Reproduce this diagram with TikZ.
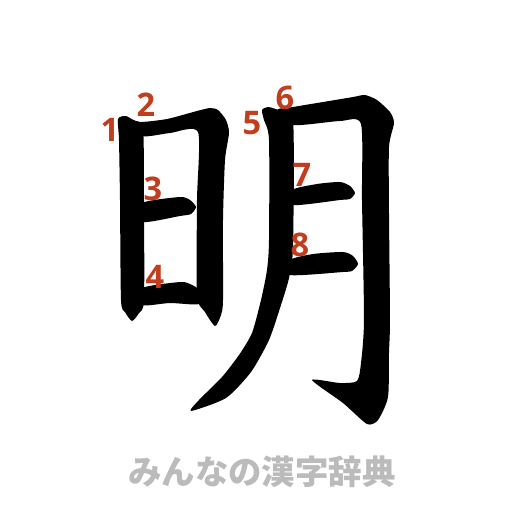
\documentclass[tikz,border=0pt]{standalone}
\usepackage{fontspec}
\setmainfont{Open Sans}
\newfontfamily\jpfont{Noto Sans CJK JP}
\definecolor{numred}{RGB}{194,60,30}
\definecolor{logogray}{RGB}{187,187,187}
\begin{document}
\begin{tikzpicture}[x=0.02cm,y=-0.02cm,
  stroke/.style={fill=black,draw=none},
  num/.style={text=numred,font=\fontsize{18.5}{18.5}\selectfont\bfseries,inner sep=0pt},
  logo/.style={text=logogray,font=\jpfont\fontsize{19}{19}\selectfont\bfseries,inner sep=0pt}]
\useasboundingbox[fill=white] (0,0) rectangle (512,512);
% stroke 1
\fill[stroke] plot[smooth cycle,tension=0.4] coordinates {
 (118,119) (126,116) (134,121) (143,128) (144,200) (144,300) (139,313) (132,321)
 (125,312) (121,300) (120,200) (119,140)};
% stroke 2
\fill[stroke] plot[smooth cycle,tension=0.4] coordinates {
 (128,118) (140,122) (167,119) (197,111) (210,108) (218,110) (226,120) (229,133)
 (225,160) (223,220) (223,300) (221,315) (215,326) (205,312) (197,295) (197,200)
 (198,132) (170,133) (142,136)};
% stroke 3
\fill[stroke] plot[smooth cycle,tension=0.4] coordinates {
 (142,203) (180,197) (190,200) (196,207) (191,214) (180,216) (142,222)};
% stroke 4
\fill[stroke] plot[smooth cycle,tension=0.4] coordinates {
 (142,288) (180,282) (190,284) (199,290) (199,304) (170,303) (142,305)};
% stroke 5
\fill[stroke] plot[smooth cycle,tension=0.4] coordinates {
 (262,110) (268,107) (278,110) (293,120) (293,247) (289,278) (281,305) (269,340)
 (251,372) (226,398) (191,411) (199,400) (222,377) (239,355) (252,333) (261,300)
 (267,270) (269,240) (269,140) (264,120)};
% stroke 6
\fill[stroke] plot[smooth cycle,tension=0.4] coordinates {
 (277,110) (293,107) (323,102) (353,97) (365,95) (377,100) (390,112) (394,123)
 (389,147) (389,213) (390,320) (389,353) (388,397) (378,420) (367,424) (343,403)
 (312,380) (340,383) (357,381) (361,363) (364,320) (362,200) (361,124) (340,121)
 (293,125)};
% stroke 7
\fill[stroke] plot[smooth cycle,tension=0.4] coordinates {
 (292,190) (317,184) (340,182) (350,186) (355,193) (350,199) (340,200) (293,205)};
% stroke 8
\fill[stroke] plot[smooth cycle,tension=0.4] coordinates {
 (290,260) (313,254) (343,252) (353,256) (358,264) (352,271) (343,272) (290,275)};
% numbers
\node[num] (n1) at (110,130) {1};
\node[num] (n2) at (146,105) {2};
\node[num] (n3) at (153,189) {3};
\node[num] (n4) at (155,277) {4};
\node[num] (n5) at (252,123) {5};
\node[num] (n6) at (285,98) {6};
\node[num] (n7) at (302,175) {7};
\node[num] (n8) at (300,245) {8};
% logo
\node[logo] (logo) at (262,472) {みんなの漢字辞典};
\end{tikzpicture}
\end{document}
